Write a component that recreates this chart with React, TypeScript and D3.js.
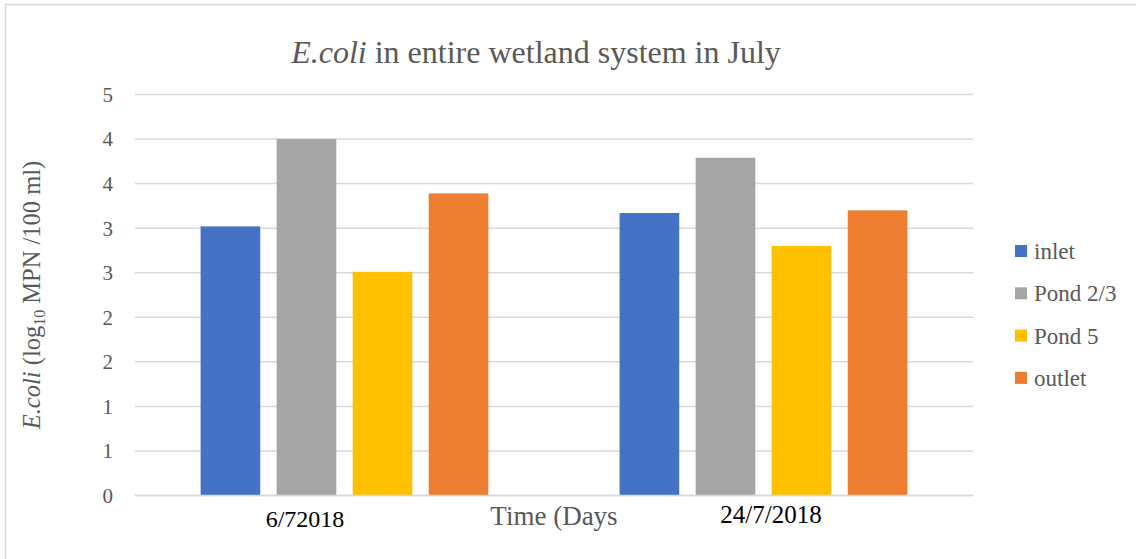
import React from "react";
import * as d3 from "d3";

const categories = ["6/72018", "24/7/2018"];
const seriesNames = ["inlet", "Pond 2/3", "Pond 5", "outlet"];
const inlet = [3.02, 3.17];
const pond23 = [4.0, 3.79];
const pond5 = [2.51, 2.8];
const outlet = [3.39, 3.2];
const seriesValues = [inlet, pond23, pond5, outlet];
const colors = ["#4472C4", "#A5A5A5", "#FFC000", "#ED7D31"];
const yTicks = d3.range(0, 4.5001, 0.5);

const W = 1136;
const H = 559;
const plot = { left: 135, right: 973, top: 94.5, bottom: 495.5 };
const FONT = "'Liberation Serif', 'Times New Roman', serif";
const TEXT = "#595959";

export default function App() {
  const x = d3.scaleBand<string>().domain(categories).range([plot.left, plot.right]).padding(0);
  const y = d3.scaleLinear().domain([0, 4.5]).range([plot.bottom, plot.top]);
  const fmt = d3.format(".0f");

  // Excel-style clustered columns: gap width 220%, bar spacing 27.5%
  const gapRatio = 2.2;
  const spaceRatio = 0.275;
  const n = seriesNames.length;
  const bw = x.bandwidth() / (n + (n - 1) * spaceRatio + gapRatio);
  const groupW = n * bw + (n - 1) * bw * spaceRatio;
  const barX = (ci: number, si: number) =>
    (x(categories[ci]) as number) + (x.bandwidth() - groupW) / 2 + si * bw * (1 + spaceRatio);

  const labelOffsets = [-39.5, 7.5];
  const labelBaselines = [527, 523];
  const labelSizes = [24, 25];

  return (
    <svg
      width={W}
      height={H}
      style={{ position: "absolute", left: 0, top: 0, background: "#fff" }}
      fontFamily={FONT}
    >
      <rect x={5.5} y={4.5} width={W + 10} height={H + 10} fill="#fff" stroke="#d9d9d9" strokeWidth={1.5} />

      <text x={536} y={63} textAnchor="middle" fontSize={32} fill={TEXT}>
        <tspan fontStyle="italic">E.coli</tspan>
        <tspan> in entire wetland system in July</tspan>
      </text>

      {yTicks.map((t) => (
        <g key={t}>
          <line x1={plot.left} x2={plot.right} y1={y(t)} y2={y(t)} stroke="#d9d9d9" strokeWidth={1.5} />
          <text x={113} y={y(t)} dy="0.35em" textAnchor="end" fontSize={21} fill={TEXT}>
            {fmt(t)}
          </text>
        </g>
      ))}

      {seriesValues.map((vals, si) =>
        vals.map((v, ci) => (
          <rect
            key={`${si}-${ci}`}
            x={barX(ci, si)}
            y={y(v)}
            width={bw}
            height={y(0) - y(v)}
            fill={colors[si]}
          />
        ))
      )}

      <line x1={plot.left} x2={plot.right} y1={y(0)} y2={y(0)} stroke="#d9d9d9" strokeWidth={1.5} />

      {categories.map((c, ci) => (
        <text
          key={c}
          x={(x(c) as number) + x.bandwidth() / 2 + labelOffsets[ci]}
          y={labelBaselines[ci]}
          textAnchor="middle"
          fontSize={labelSizes[ci]}
          fill="#000"
        >
          {c}
        </text>
      ))}
      <text x={(plot.left + plot.right) / 2} y={525} textAnchor="middle" fontSize={27} fill={TEXT}>
        Time (Days
      </text>

      <text transform={`translate(40, 295) rotate(-90)`} textAnchor="middle" fontSize={24.5} fill={TEXT}>
        <tspan fontStyle="italic">E.coli</tspan>
        <tspan> (log</tspan>
        <tspan fontSize={16} dy={5}>10</tspan>
        <tspan dy={-5}> MPN /100 ml)</tspan>
      </text>

      {seriesNames.map((s, i) => {
        const cy = 251 + i * 42.3;
        return (
          <g key={s}>
            <rect x={1015} y={cy - 6} width={12} height={12} fill={colors[i]} />
            <text x={1034} y={cy} dy="0.35em" fontSize={23} fill={TEXT}>
              {s}
            </text>
          </g>
        );
      })}
    </svg>
  );
}
